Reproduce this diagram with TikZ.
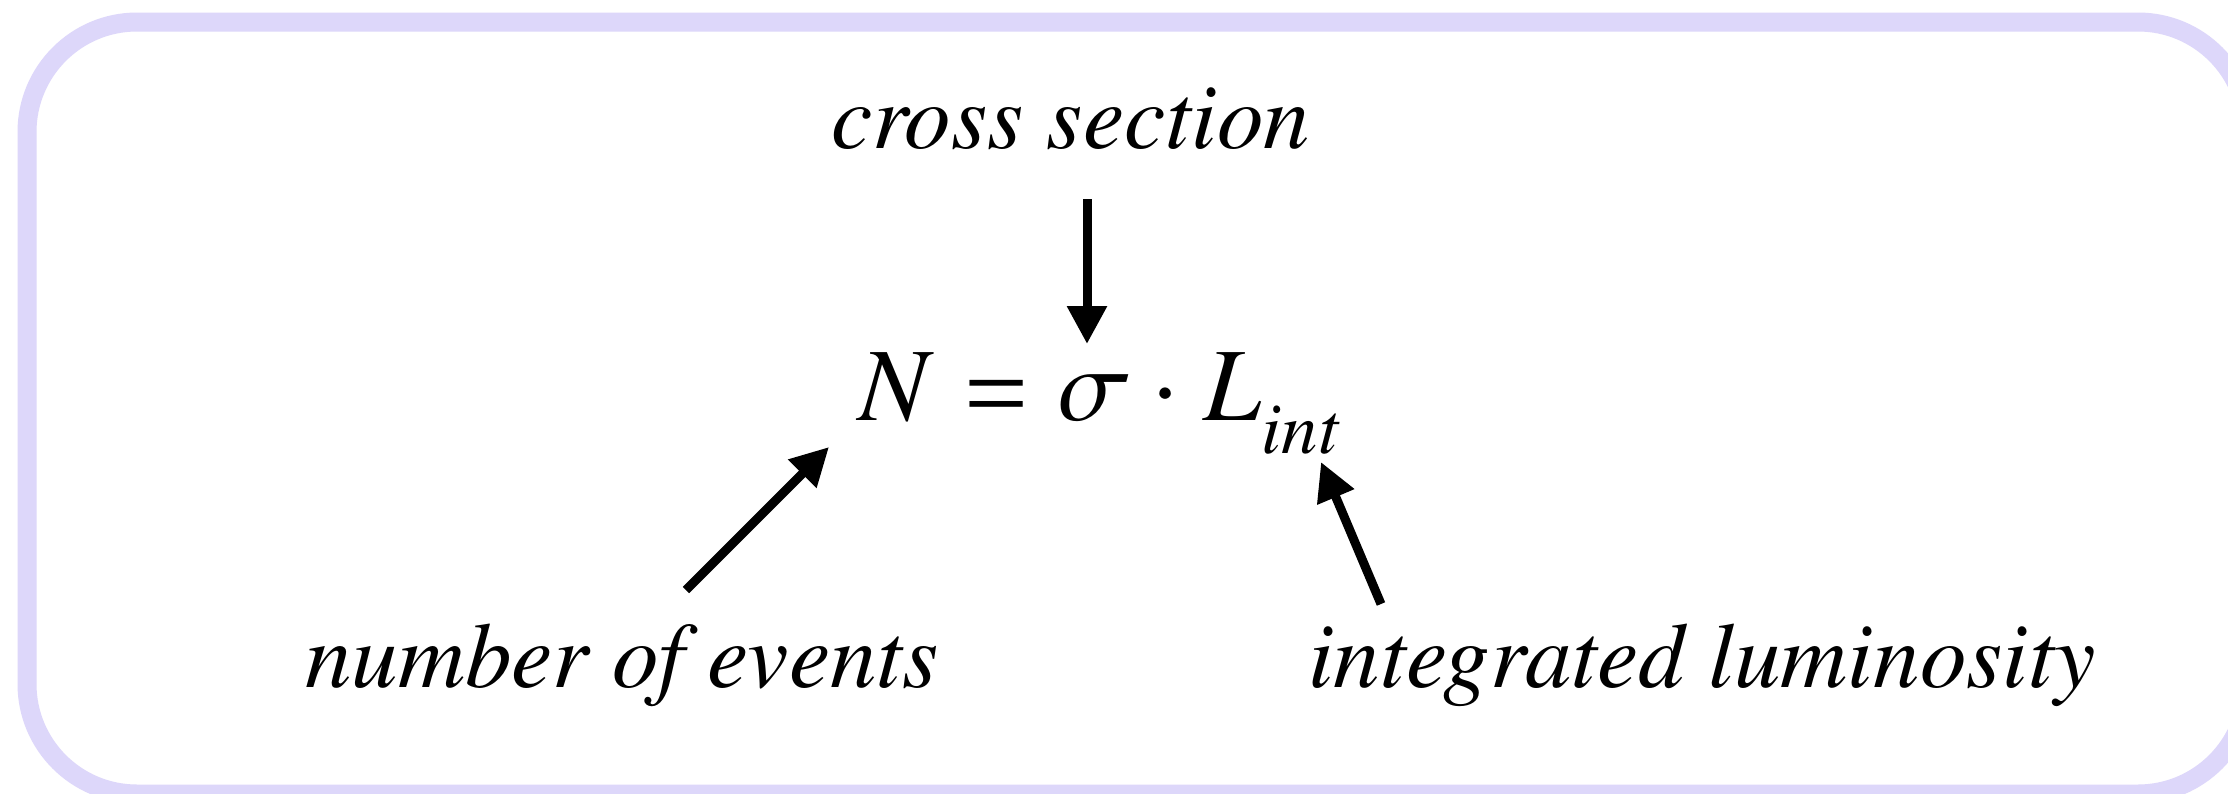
\documentclass[tikz,border=0pt]{standalone}
\usepackage[T1]{fontenc}
\usepackage{txfonts}
\usetikzlibrary{arrows.meta}
\definecolor{framec}{RGB}{221,215,250}
\tikzset{
  lbl/.style={inner sep=0pt, anchor=base, font=\fontsize{93}{100}\selectfont\itshape},
  eqn/.style={inner sep=0pt, anchor=base west, font=\fontsize{104}{110}\selectfont},
  pointer/.style={line width=9pt, -{Triangle[length=38pt,width=38pt]}},
  frame/.style={draw=framec, line width=19pt, rounded corners=110pt}
}
\begin{document}
\begin{tikzpicture}[x=1pt,y=-1pt]
\useasboundingbox (0,0) rectangle (2228,793);
\clip (0,0) rectangle (2228,793);
\fill[white] (0,0) rectangle (2228,793);
\draw[frame] (27,22) rectangle (2248,794);
% labels
\node[lbl] (cs) at (1071,148) {cross section};
\node[lbl] (ne) at (622,687) {number of events};
\node[lbl] (il) at (1702,687) {integrated luminosity};
% equation
\node[eqn] (eq) at (856,420) {$N \mathrel{\mathbf{=}} \sigma\cdot L_{\raisebox{-0.17em}{$\scriptstyle int$}}$};
% connector ends
\coordinate (csT) at (1087,199);
\coordinate (csH) at (1087,344);
\coordinate (neT) at (686,590);
\coordinate (neH) at (829,447);
\coordinate (ilT) at (1381,604);
\coordinate (ilH) at (1321,462);
\draw[pointer] (csT) -- (csH);
\draw[pointer] (neT) -- (neH);
\draw[pointer] (ilT) -- (ilH);
\end{tikzpicture}
\end{document}
